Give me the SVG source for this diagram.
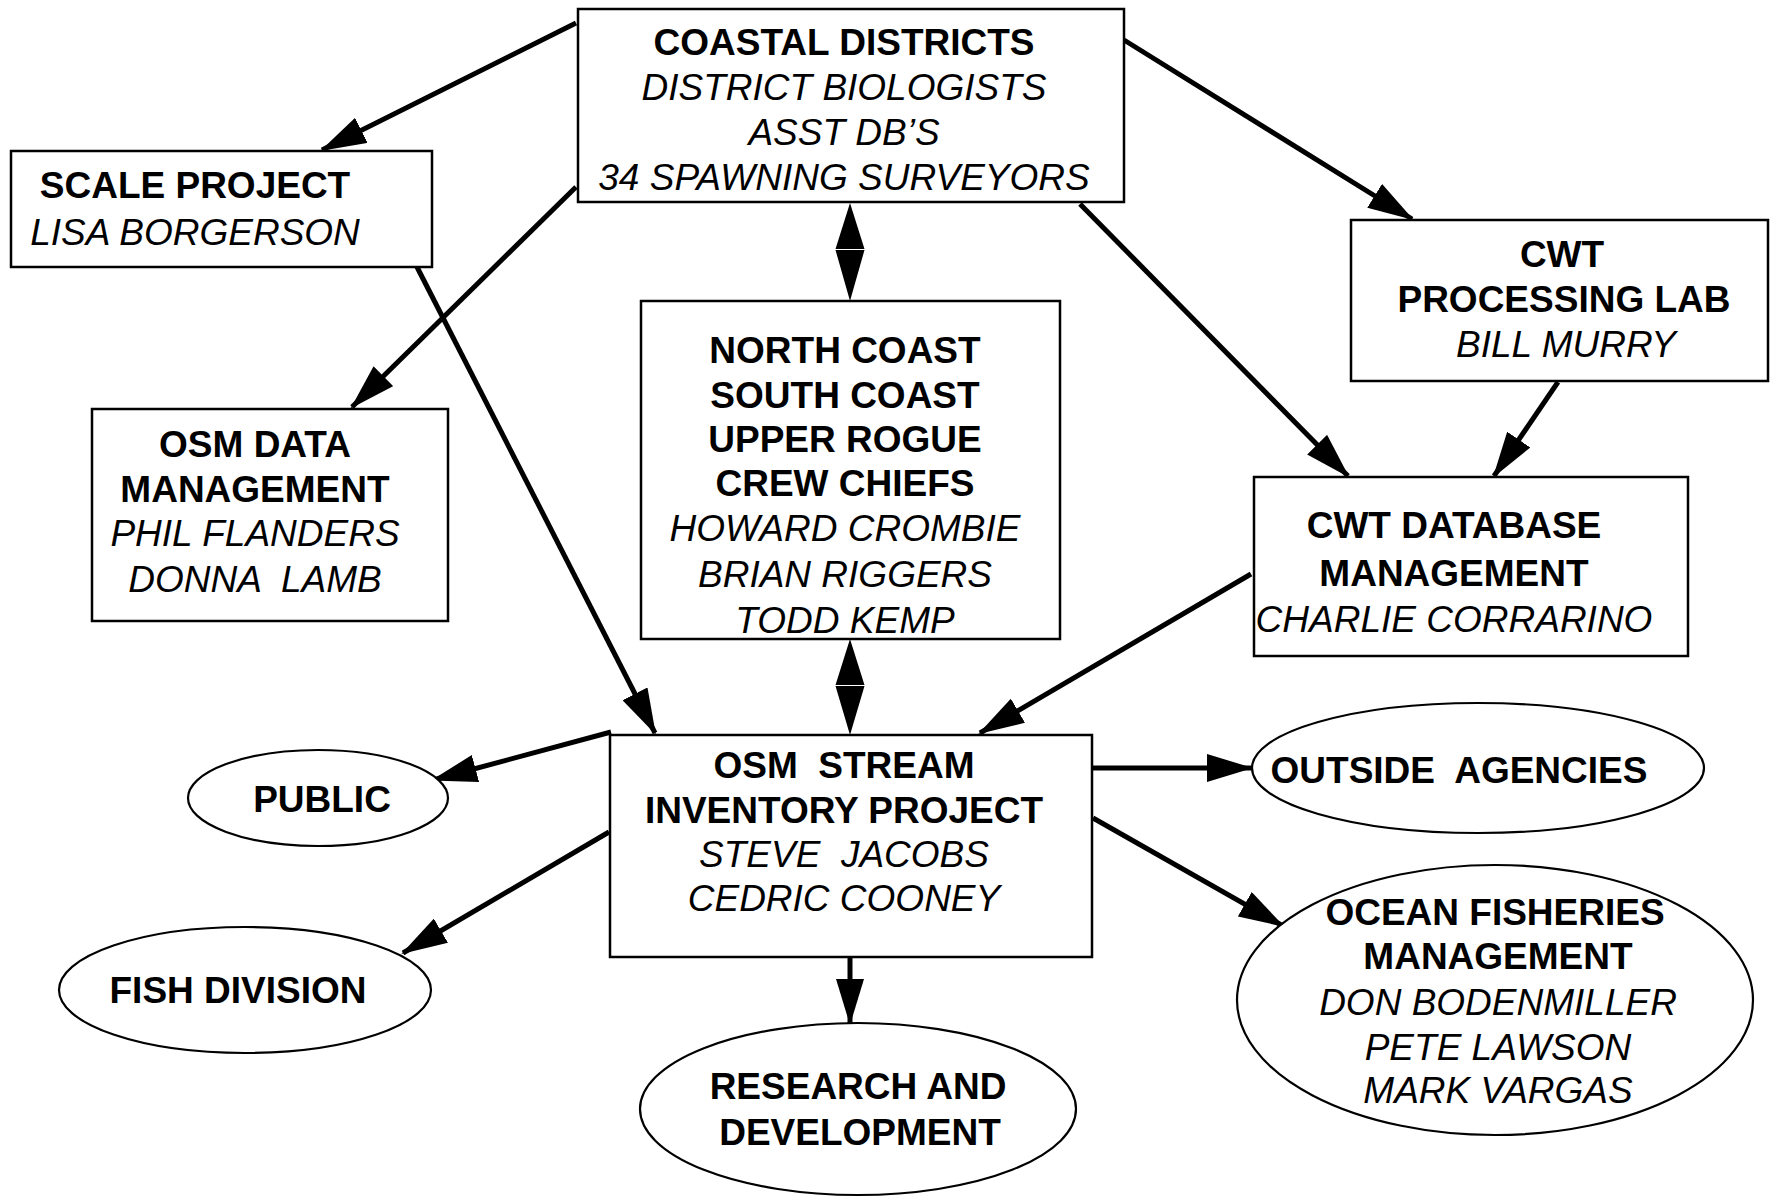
<svg xmlns="http://www.w3.org/2000/svg" width="1771" height="1198" viewBox="0 0 1771 1198">
<style>
.box{fill:#fff;stroke:#000;stroke-width:2.5}
.ell{fill:#fff;stroke:#000;stroke-width:2.2}
.b{font-family:"Liberation Sans",Arial,sans-serif;font-weight:bold;font-size:37px;text-anchor:middle;white-space:pre}
.i{font-family:"Liberation Sans",Arial,sans-serif;font-style:italic;font-size:37px;text-anchor:middle;white-space:pre}
.c{fill:none;stroke:#000;stroke-width:5}
.hd{fill:#000;stroke:none}
</style>
<defs>
<marker id="ah" viewBox="0 0 46 28" refX="44" refY="14" markerWidth="46" markerHeight="28" markerUnits="userSpaceOnUse" orient="auto">
<path d="M0,0 L46,14 L0,28 z" fill="#000"/>
</marker>
</defs>
<rect width="1771" height="1198" fill="#fff"/>
<g id="connectors">
<line class="c" x1="576" y1="23" x2="322" y2="150" marker-end="url(#ah)"/>
<line class="c" x1="576" y1="187" x2="352" y2="407" marker-end="url(#ah)"/>
<line class="c" x1="417" y1="267" x2="655" y2="733" marker-end="url(#ah)"/>
<line class="c" x1="1124" y1="40" x2="1412" y2="219" marker-end="url(#ah)"/>
<line class="c" x1="1080" y1="204" x2="1348" y2="476" marker-end="url(#ah)"/>
<line class="c" x1="1558" y1="382" x2="1494" y2="476" marker-end="url(#ah)"/>
<line class="c" x1="1251" y1="574" x2="980" y2="733" marker-end="url(#ah)"/>
<path class="hd" d="M850,203 L864.5,249 L835.5,249 z M850,301 L864.5,250 L835.5,250 z"/>
<path class="hd" d="M850,639 L864.5,685 L835.5,685 z M850,735 L864.5,686 L835.5,686 z"/>
<line class="c" x1="611" y1="732" x2="433" y2="780" marker-end="url(#ah)"/>
<line class="c" x1="609" y1="832" x2="403" y2="953" marker-end="url(#ah)"/>
<line class="c" x1="1092" y1="768" x2="1251" y2="768" marker-end="url(#ah)"/>
<line class="c" x1="1093" y1="818" x2="1283" y2="926" marker-end="url(#ah)"/>
<line class="c" x1="850" y1="957" x2="850" y2="1023" marker-end="url(#ah)"/>
</g>
<g id="coastal">
<rect class="box" x="578" y="9" width="546" height="193"/>
<text class="b" x="844" y="55">COASTAL DISTRICTS</text>
<text class="i" x="844" y="100">DISTRICT BIOLOGISTS</text>
<text class="i" x="844" y="145">ASST DB’S</text>
<text class="i" x="844" y="190">34 SPAWNING SURVEYORS</text>
</g>
<g id="scale">
<rect class="box" x="11" y="151" width="421" height="116"/>
<text class="b" x="195" y="198">SCALE PROJECT</text>
<text class="i" x="195" y="245">LISA BORGERSON</text>
</g>
<g id="cwtlab">
<rect class="box" x="1351" y="220" width="417" height="161"/>
<text class="b" x="1562" y="267">CWT</text>
<text class="b" x="1564" y="312">PROCESSING LAB</text>
<text class="i" x="1566" y="357">BILL MURRY</text>
</g>
<g id="osmdata">
<rect class="box" x="92" y="409" width="356" height="212"/>
<text class="b" x="255" y="457">OSM DATA</text>
<text class="b" x="255" y="502">MANAGEMENT</text>
<text class="i" x="255" y="546">PHIL FLANDERS</text>
<text class="i" x="255" y="592">DONNA  LAMB</text>
</g>
<g id="crew">
<rect class="box" x="641" y="301" width="419" height="338"/>
<text class="b" x="845" y="363">NORTH COAST</text>
<text class="b" x="845" y="408">SOUTH COAST</text>
<text class="b" x="845" y="452">UPPER ROGUE</text>
<text class="b" x="845" y="496">CREW CHIEFS</text>
<text class="i" x="845" y="541">HOWARD CROMBIE</text>
<text class="i" x="845" y="587">BRIAN RIGGERS</text>
<text class="i" x="845" y="633">TODD KEMP</text>
</g>
<g id="cwtdb">
<rect class="box" x="1254" y="477" width="434" height="179"/>
<text class="b" x="1454" y="538">CWT DATABASE</text>
<text class="b" x="1454" y="586">MANAGEMENT</text>
<text class="i" x="1454" y="632">CHARLIE CORRARINO</text>
</g>
<g id="osmstream">
<rect class="box" x="610" y="735" width="482" height="222"/>
<text class="b" x="844" y="778">OSM  STREAM</text>
<text class="b" x="844" y="823">INVENTORY PROJECT</text>
<text class="i" x="844" y="867">STEVE  JACOBS</text>
<text class="i" x="844" y="911">CEDRIC COONEY</text>
</g>
<g id="public">
<ellipse class="ell" cx="318" cy="798" rx="130" ry="48"/>
<text class="b" x="322" y="812">PUBLIC</text>
</g>
<g id="fish">
<ellipse class="ell" cx="245" cy="990" rx="186" ry="63"/>
<text class="b" x="238" y="1003">FISH DIVISION</text>
</g>
<g id="outside">
<ellipse class="ell" cx="1478" cy="768" rx="226" ry="65"/>
<text class="b" x="1459" y="783">OUTSIDE  AGENCIES</text>
</g>
<g id="ocean">
<ellipse class="ell" cx="1495" cy="1000" rx="258" ry="135"/>
<text class="b" x="1495" y="925">OCEAN FISHERIES</text>
<text class="b" x="1498" y="969">MANAGEMENT</text>
<text class="i" x="1498" y="1015">DON BODENMILLER</text>
<text class="i" x="1498" y="1060">PETE LAWSON</text>
<text class="i" x="1498" y="1103">MARK VARGAS</text>
</g>
<g id="research">
<ellipse class="ell" cx="858" cy="1109" rx="218" ry="86"/>
<text class="b" x="858" y="1099">RESEARCH AND</text>
<text class="b" x="860" y="1145">DEVELOPMENT</text>
</g>
</svg>
